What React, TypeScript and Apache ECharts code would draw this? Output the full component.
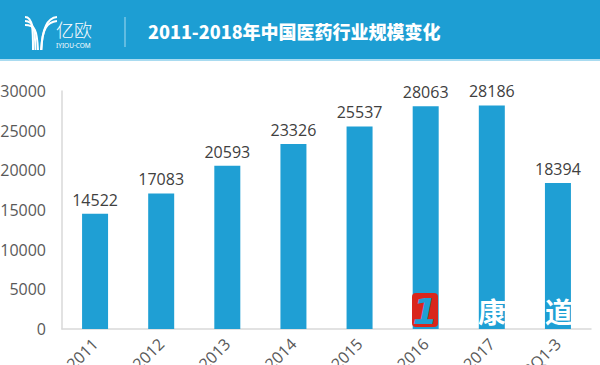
import React, { useEffect, useRef } from "react";
import * as echarts from "echarts";

const categories = ["2011", "2012", "2013", "2014", "2015", "2016", "2017", "2018Q1-3"];
const values = [14522, 17083, 20593, 23326, 25537, 28063, 28186, 18394];
const yTicks = { min: 0, max: 30000, interval: 5000 };
const title = "2011-2018年中国医药行业规模变化";

const BLUE = "#1f9fd4";
const FONT = "'Open Sans', 'Noto Sans', sans-serif";

export default function App() {
  const ref = useRef<HTMLDivElement>(null);
  useEffect(() => {
    document.body.style.margin = "0";
    if (!ref.current) return;
    const chart = echarts.init(ref.current, null, { renderer: "svg" });

    const logoCurves: any[] = [];
    for (let i = 0; i < 3; i++) {
      logoCurves.push({
        type: "bezierCurve",
        shape: {
          x1: 25, y1: 17 + i * 4,
          cpx1: 33 + i * 1, cpy1: 17 + i * 4,
          cpx2: 33 + i * 2, cpy2: 30,
          x2: 33 + i * 2.5, y2: 50,
        },
        style: { stroke: "#fff", lineWidth: 2, fill: null },
      });
    }
    for (let i = 0; i < 2; i++) {
      logoCurves.push({
        type: "bezierCurve",
        shape: {
          x1: 57, y1: 17 + i * 4,
          cpx1: 47, cpy1: 18 + i * 4,
          cpx2: 42 + i * 0.5, cpy2: 28,
          x2: 41.5 - i * 0.5, y2: 50,
        },
        style: { stroke: "#fff", lineWidth: 2, fill: null },
      });
    }

    chart.setOption({
      animation: false,
      grid: {
        left: 62, right: 9, top: 91, bottom: 36,
        containLabel: false, outerBoundsMode: "none",
      },
      xAxis: {
        type: "category",
        data: categories,
        axisLine: { show: true, lineStyle: { color: "#d9d9d9", width: 1.5 } },
        axisTick: { show: false },
        axisLabel: {
          rotate: 45,
          margin: 12,
          color: "#595959",
          fontSize: 16,
          fontFamily: FONT,
          interval: 0,
        },
      },
      yAxis: {
        type: "value",
        min: yTicks.min,
        max: yTicks.max,
        interval: yTicks.interval,
        axisLine: { show: true, lineStyle: { color: "#d9d9d9", width: 1.5 } },
        axisTick: { show: false },
        splitLine: { show: false },
        axisLabel: {
          color: "#595959", fontSize: 16, fontFamily: FONT, margin: 16,
          formatter: (v: number) => String(v),
        },
      },
      series: [
        {
          type: "bar",
          data: values,
          barWidth: 26,
          itemStyle: { color: BLUE },
          label: {
            show: true,
            position: "top",
            distance: 6,
            color: "#404040",
            fontSize: 16,
            fontFamily: FONT,
          },
        },
      ],
      graphic: [
        { type: "rect", shape: { x: 0, y: 0, width: 600, height: 59 }, style: { fill: "#1d9ed3" } },
        { type: "rect", shape: { x: 0, y: 59, width: 600, height: 2 }, style: { fill: "#a9dbf0" } },
        ...logoCurves,
        {
          type: "text",
          x: 56, y: 29,
          style: {
            text: "亿欧", fill: "#fff", fontSize: 18, fontWeight: 300,
            fontFamily: "'Noto Sans CJK SC', sans-serif", textVerticalAlign: "middle",
          },
        },
        {
          type: "text",
          x: 56, y: 45.5,
          style: {
            text: "IYIOU·COM", fill: "#fff", fontSize: 6.5,
            fontFamily: "'Noto Sans', sans-serif", textVerticalAlign: "middle",
          },
        },
        { type: "line", shape: { x1: 125, y1: 17, x2: 125, y2: 47 }, style: { stroke: "#8fd0ec", lineWidth: 1.2 } },
        {
          type: "text",
          x: 148, y: 31,
          style: {
            text: title, fill: "#fff", fontSize: 18, fontWeight: 900,
            fontFamily: "'Noto Sans CJK SC', sans-serif", textVerticalAlign: "middle",
          },
        },
        // watermark
        { type: "rect", z: 100, shape: { x: 412, y: 293, width: 26, height: 34, r: 4 }, style: { fill: "#d9261c" } },
        {
          type: "text", z: 101, x: 425, y: 311,
          style: {
            text: "1", fill: BLUE, fontSize: 36, fontWeight: "bold", fontStyle: "italic",
            fontFamily: "'DejaVu Sans', sans-serif", textAlign: "center", textVerticalAlign: "middle",
          },
        },
        {
          type: "text", z: 101, x: 492, y: 311,
          style: {
            text: "康", fill: "#fff", fontSize: 28, fontWeight: "bold",
            fontFamily: "'Noto Sans CJK SC', sans-serif", textAlign: "center", textVerticalAlign: "middle",
          },
        },
        {
          type: "text", z: 101, x: 559, y: 311,
          style: {
            text: "道", fill: "#fff", fontSize: 28, fontWeight: "bold",
            fontFamily: "'Noto Sans CJK SC', sans-serif", textAlign: "center", textVerticalAlign: "middle",
          },
        },
      ],
    });
    return () => chart.dispose();
  }, []);
  return <div ref={ref} style={{ width: 600, height: 365 }} />;
}
